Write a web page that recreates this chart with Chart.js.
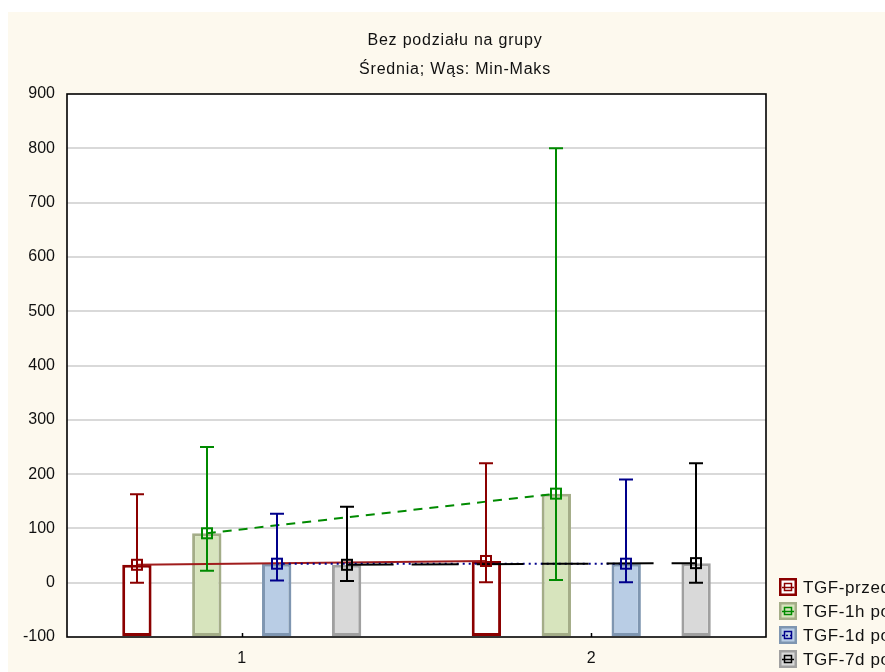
<!DOCTYPE html>
<html>
<head>
<meta charset="utf-8">
<script src="https://cdn.jsdelivr.net/npm/chart.js@4.4.1/dist/chart.umd.min.js"></script>
<style>
  html, body { margin: 0; padding: 0; background: #ffffff; }
  #wrap { width: 885px; height: 672px; position: relative; }
</style>
</head>
<body>
<div id="wrap"><canvas id="chart" width="885" height="672"></canvas></div>
<script>
// Grouping categories on the x axis
const categories = ['1', '2'];

// Series names
const seriesNames = ['TGF-przed', 'TGF-1h po', 'TGF-1d po', 'TGF-7d po'];

// Means (bar tops and markers), one array per series, one value per category
const meanPrzed = [33, 40];
const mean1h = [91, 164];
const mean1d = [35, 35];
const mean7d = [33, 36];

// Whiskers: minimum and maximum per series
const minPrzed = [0, 1];
const maxPrzed = [163, 220];
const min1h = [22, 5];
const max1h = [250, 800];
const min1d = [4, 1];
const max1d = [127, 190];
const min7d = [3, 0];
const max7d = [140, 220];

// Y axis tick values
const yTicks = [-100, 0, 100, 200, 300, 400, 500, 600, 700, 800, 900];

const means = [meanPrzed, mean1h, mean1d, mean7d];
const mins = [minPrzed, min1h, min1d, min7d];
const maxs = [maxPrzed, max1h, max1d, max7d];

const styles = [
  { fill: '#ffffff', border: '#8b0000', whisker: '#8b0000', line: '#a01c1c', dash: [] },
  { fill: '#d7e4bd', border: '#a4ad88', whisker: '#008a00', line: '#008a00', dash: [9, 7] },
  { fill: '#b9cde5', border: '#7f96b1', whisker: '#00008b', line: '#00008b', dash: [2, 4] },
  { fill: '#d9d9d9', border: '#a0a0a0', whisker: '#000000', line: '#000000', dash: [47, 18] }
];

const FONT = '"Liberation Sans", Arial, sans-serif';

// Backgrounds, connecting lines, whiskers, markers, titles and legend
const decor = {
  id: 'decor',
  beforeDraw(chart) {
    const { ctx, chartArea: a } = chart;
    ctx.save();
    ctx.fillStyle = '#fdf9ee';
    ctx.fillRect(8, 12, chart.width - 8, chart.height - 12);
    ctx.fillStyle = '#ffffff';
    ctx.fillRect(a.left, a.top, a.right - a.left, a.bottom - a.top);
    ctx.restore();
  },
  afterDatasetsDraw(chart) {
    const { ctx, chartArea: a } = chart;
    const y = chart.scales.y;
    const x = chart.scales.x;
    ctx.save();
    ctx.beginPath();
    ctx.rect(a.left, a.top, a.right - a.left, a.bottom - a.top);
    ctx.clip();

    // lines joining the means of each series across groups
    means.forEach((vals, s) => {
      const meta = chart.getDatasetMeta(s);
      ctx.strokeStyle = styles[s].line;
      ctx.lineWidth = 2;
      ctx.setLineDash(styles[s].dash);
      ctx.beginPath();
      vals.forEach((v, i) => {
        const px = meta.data[i].x, py = y.getPixelForValue(v);
        if (i === 0) ctx.moveTo(px, py); else ctx.lineTo(px, py);
      });
      ctx.stroke();
    });
    ctx.setLineDash([]);

    // whiskers min-max
    means.forEach((vals, s) => {
      const meta = chart.getDatasetMeta(s);
      ctx.strokeStyle = styles[s].whisker;
      ctx.lineWidth = 2;
      vals.forEach((v, i) => {
        const px = Math.round(meta.data[i].x);
        const yMin = y.getPixelForValue(mins[s][i]);
        const yMax = y.getPixelForValue(maxs[s][i]);
        ctx.beginPath();
        ctx.moveTo(px, yMin); ctx.lineTo(px, yMax);
        ctx.moveTo(px - 7, yMin); ctx.lineTo(px + 7, yMin);
        ctx.moveTo(px - 7, yMax); ctx.lineTo(px + 7, yMax);
        ctx.stroke();
      });
    });

    // mean markers
    means.forEach((vals, s) => {
      const meta = chart.getDatasetMeta(s);
      ctx.strokeStyle = styles[s].whisker;
      ctx.lineWidth = 2;
      vals.forEach((v, i) => {
        const px = Math.round(meta.data[i].x), py = y.getPixelForValue(v);
        ctx.strokeRect(px - 5, py - 5, 10, 10);
      });
    });
    ctx.restore();

    // plot frame and category tick marks
    ctx.save();
    ctx.strokeStyle = '#000000';
    ctx.lineWidth = 1.6;
    ctx.strokeRect(a.left, a.top, a.right - a.left, a.bottom - a.top);
    ctx.lineWidth = 1.5;
    categories.forEach((c, i) => {
      const px = Math.round(x.getPixelForValue(i)) + 0.5;
      ctx.beginPath();
      ctx.moveTo(px, a.bottom); ctx.lineTo(px, a.bottom - 4);
      ctx.stroke();
    });
    ctx.restore();
  },
  afterDraw(chart) {
    const { ctx } = chart;
    ctx.save();
    // titles
    ctx.fillStyle = '#111111';
    ctx.font = '16px ' + FONT;
    ctx.letterSpacing = '0.8px';
    ctx.textAlign = 'center';
    ctx.textBaseline = 'middle';
    ctx.fillText('Bez podziału na grupy', 455, 41);
    ctx.fillText('Średnia; Wąs: Min-Maks', 455, 70);

    // legend
    ctx.textAlign = 'left';
    ctx.font = '17px ' + FONT;
    ctx.letterSpacing = '0.6px';
    seriesNames.forEach((name, s) => {
      const st = styles[s];
      const top = 578 + s * 24;
      const left = 779;
      ctx.fillStyle = st.fill;
      ctx.fillRect(left, top, 18, 18);
      ctx.strokeStyle = st.border;
      ctx.lineWidth = 2.5;
      ctx.strokeRect(left + 1.25, top + 1.25, 15.5, 15.5);
      ctx.strokeStyle = st.whisker;
      ctx.lineWidth = 1.5;
      ctx.setLineDash(s === 2 ? [2, 2] : []);
      ctx.beginPath();
      ctx.moveTo(left + 3, top + 9.5); ctx.lineTo(left + 15, top + 9.5);
      ctx.stroke();
      ctx.setLineDash([]);
      ctx.strokeRect(left + 5.5, top + 5.5, 7, 7);
      ctx.fillStyle = '#111111';
      ctx.fillText(name, 803, top + 10);
    });
    ctx.restore();
  }
};

const datasets = seriesNames.map((name, s) => ({
  label: name,
  data: means[s],
  base: -100,
  backgroundColor: styles[s].fill,
  borderColor: styles[s].border,
  borderWidth: 3,
  borderSkipped: false,
  categoryPercentage: 0.8,
  barPercentage: 0.42
}));

new Chart(document.getElementById('chart'), {
  type: 'bar',
  data: { labels: categories, datasets },
  plugins: [decor],
  options: {
    responsive: false,
    animation: false,
    events: [],
    layout: { padding: { left: 0, top: 94, right: 119, bottom: 0 } },
    plugins: { legend: { display: false }, tooltip: { enabled: false }, title: { display: false } },
    scales: {
      x: {
        type: 'category',
        offset: true,
        grid: { display: false, drawTicks: false },
        border: { display: false },
        ticks: { color: '#111111', font: { family: FONT, size: 16 }, padding: 12 },
        afterFit(scale) { scale.height = 35; }
      },
      y: {
        min: -100,
        max: 900,
        afterBuildTicks(scale) { scale.ticks = yTicks.map(v => ({ value: v })); },
        grid: {
          color: (c) => (c.tick && (c.tick.value === 900 || c.tick.value === -100)) ? 'rgba(0,0,0,0)' : '#d9d9d9',
          lineWidth: 2,
          drawTicks: false
        },
        border: { display: false },
        ticks: { color: '#111111', font: { family: FONT, size: 16 }, padding: 12 },
        afterFit(scale) { scale.width = 67; }
      }
    }
  }
});
</script>
</body>
</html>
